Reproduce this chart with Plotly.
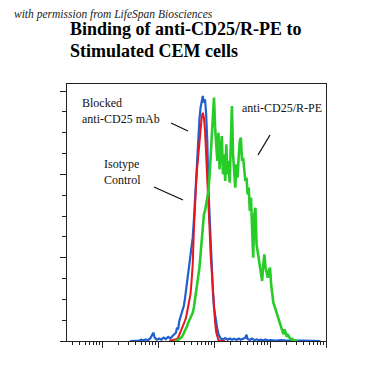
import numpy as np
import plotly.graph_objects as go

# ---- data (log10 fluorescence intensity, event counts) ----
blue_log = [1.50, 1.54, 1.58, 1.62, 1.66, 1.70, 1.74, 1.78, 1.82, 1.86, 1.90, 1.92, 1.94, 1.98,
            2.02, 2.06, 2.10, 2.14, 2.18, 2.22, 2.26, 2.30,
            2.32, 2.34, 2.36, 2.38, 2.40, 2.42, 2.44, 2.46, 2.48, 2.50, 2.52, 2.54, 2.56, 2.58,
            2.60, 2.62, 2.64, 2.66, 2.68, 2.70, 2.72, 2.74, 2.76, 2.78, 2.80, 2.82, 2.84, 2.86,
            2.88, 2.90, 2.92, 2.94, 2.96, 2.98, 3.00, 3.02, 3.04, 3.06, 3.08, 3.10, 3.12,
            3.16, 3.20, 3.24, 3.28, 3.32, 3.36, 3.40, 3.44, 3.48, 3.52, 3.56, 3.58, 3.60, 3.64,
            3.68, 3.72, 3.76, 3.80, 3.84, 3.88, 3.92, 3.96, 4.00, 4.10, 4.20, 4.30, 4.40, 4.50,
            4.60, 4.70, 4.80, 4.90]
blue_count = [0, 0, 0, 0, 0.3, 0.8, 0.3, 1.0, 0.5, 1.5, 3.5, 5, 2, 0.8,
              1.5, 0.8, 2, 1.2, 2.5, 1.5, 3, 4.5,
              5, 8, 7, 12, 14, 17, 19, 21, 25, 30, 35, 40, 45, 50,
              56, 62, 72, 85, 95, 105, 122, 133, 140, 145, 147, 143, 145, 136,
              120, 92, 75, 60, 45, 30, 20, 15, 11, 7, 4, 2.5, 1.5,
              1, 1.8, 0.8, 1.5, 0.8, 1.4, 0.6, 1.5, 0.8, 1.2, 2.0, 3.8, 1.2, 0.6,
              1.4, 0.5, 1.0, 0.4, 0.8, 0.3, 0.9, 0.3, 0.6, 0.2, 0.5, 0.2, 0.4, 0.2,
              0.3, 0.1, 0.2, 0]

red_log = [2.20, 2.24, 2.28, 2.30, 2.32, 2.34, 2.36, 2.38, 2.40, 2.42, 2.44, 2.46, 2.48, 2.50,
           2.52, 2.54, 2.56, 2.58, 2.60, 2.62, 2.64, 2.66, 2.68, 2.70, 2.72, 2.74, 2.76, 2.78,
           2.80, 2.82, 2.84, 2.86, 2.88, 2.90, 2.92, 2.94, 2.96, 2.98, 3.00, 3.02, 3.04, 3.06,
           3.08, 3.10, 3.20]
red_count = [0, 0.3, 0.5, 0.8, 1.0, 1.2, 2, 3.5, 5, 6.5, 8.5, 10, 12, 14,
             17, 20, 24, 28, 36, 46, 66, 84, 94, 104, 111, 120, 128, 134,
             137, 134, 126, 113, 98, 84, 68, 52, 40, 28, 19, 11, 5, 2,
             0.5, 0, 0]

green_log = [round(v, 2) for v in np.arange(2.30, 4.505, 0.02)]
green_count = [0, 0, 0.3, 0.6, 1.0, 1.5, 2.2, 3.2, 4.5, 6,
               7.5, 9, 11, 12.5, 14, 15.5, 17, 20, 25, 29,
               33, 38, 44, 52, 59, 70, 76, 78, 82, 85,
               90, 99, 112, 126, 140, 146, 128, 118, 108, 125,
               103, 115, 123, 100, 112, 96, 118, 100, 108, 95,
               120, 141, 112, 100, 92, 106, 98, 110, 120, 122,
               108, 110, 100, 96, 98, 88, 92, 78, 86, 62,
               50, 76, 80, 58, 54, 50, 46, 42, 36, 46,
               52, 44, 40, 38, 42, 44, 34, 28, 23, 21,
               19, 17, 14, 13, 11, 8, 6, 4, 7, 4,
               2.5, 3.5, 2, 1.5, 1, 1.2, 0.5, 0.3, 0, 0,
               0]

series_names = ["Blocked anti-CD25 mAb", "Isotype Control", "anti-CD25/R-PE"]
series_colors = ["#1f5fcf", "#e8151b", "#28cc28"]

# page is drawn with an 8px body margin, so the figure is offset by 8px
OFF = 8
W, H = 369 - OFF, 370 - OFF
PL, PR, PT, PB = 67, 326, 84, 341          # plot area on the page
L, T = PL - OFF, PT - OFF
R, B = W - (PR - OFF), H - (PB - OFF)

fig = go.Figure()
for logs, counts, name, col, lw in [
    (blue_log, blue_count, series_names[0], series_colors[0], 2.2),
    (red_log, red_count, series_names[1], series_colors[1], 2),
    (green_log, green_count, series_names[2], series_colors[2], 2.6),
]:
    fig.add_trace(go.Scatter(x=[10 ** v for v in logs], y=counts, mode="lines", name=name,
                             line=dict(color=col, width=lw), showlegend=False,
                             hoverinfo="skip"))

axis_common = dict(showgrid=False, zeroline=False, showline=True, mirror=True,
                   linecolor="#222", linewidth=1, showticklabels=False,
                   ticks="outside", tickcolor="#222", tickwidth=1)

fig.update_xaxes(type="log", range=[0.375, 5.0], dtick=1, ticklen=6,
                 minor=dict(ticks="outside", ticklen=3, dtick="D1", tickcolor="#222", showgrid=False),
                 **axis_common)
fig.update_yaxes(range=[0, 154.2], dtick=50, ticklen=6,
                 minor=dict(ticks="outside", ticklen=4, dtick=12.5, tickcolor="#222", showgrid=False),
                 **axis_common)

def px_x(px):
    return (px - PL) / (PR - PL)

def px_y(py):
    return (PB - py) / (PB - PT)

serif = "Liberation Serif, Times New Roman, serif"
ann = []
ann.append(dict(text="with permission from LifeSpan Biosciences", x=px_x(12), y=px_y(14),
                font=dict(family=serif, size=11.5, color="#222", style="italic")))
ann.append(dict(text="<b>Binding of anti-CD25/R-PE to</b>", x=px_x(68), y=px_y(28.5),
                font=dict(family=serif, size=18, color="#000")))
ann.append(dict(text="<b>Stimulated CEM cells</b>", x=px_x(68), y=px_y(50.5),
                font=dict(family=serif, size=18, color="#000")))
ann.append(dict(text="Blocked<br>anti-CD25 mAb", x=px_x(80), y=px_y(110.5), align="left",
                font=dict(family=serif, size=12, color="#111")))
ann.append(dict(text="Isotype<br>Control", x=px_x(102), y=px_y(171.5), align="left",
                font=dict(family=serif, size=12, color="#111")))
ann.append(dict(text="anti-CD25/R-PE", x=px_x(240), y=px_y(108), align="left",
                font=dict(family=serif, size=12, color="#111")))
for a in ann:
    a.update(xref="paper", yref="paper", xanchor="left", yanchor="middle", showarrow=False)

shapes = []
for (x0, y0, x1, y1) in [(171, 123, 188, 131), (154, 187, 183, 200), (270, 135, 258, 155)]:
    shapes.append(dict(type="line", xref="paper", yref="paper",
                       x0=px_x(x0), y0=px_y(y0), x1=px_x(x1), y1=px_y(y1),
                       line=dict(color="#111", width=1.3)))

fig.update_layout(width=W, height=H, margin=dict(l=L, r=R, t=T, b=B),
                  paper_bgcolor="white", plot_bgcolor="white",
                  annotations=ann, shapes=shapes)

fig.write_html("out.html")
